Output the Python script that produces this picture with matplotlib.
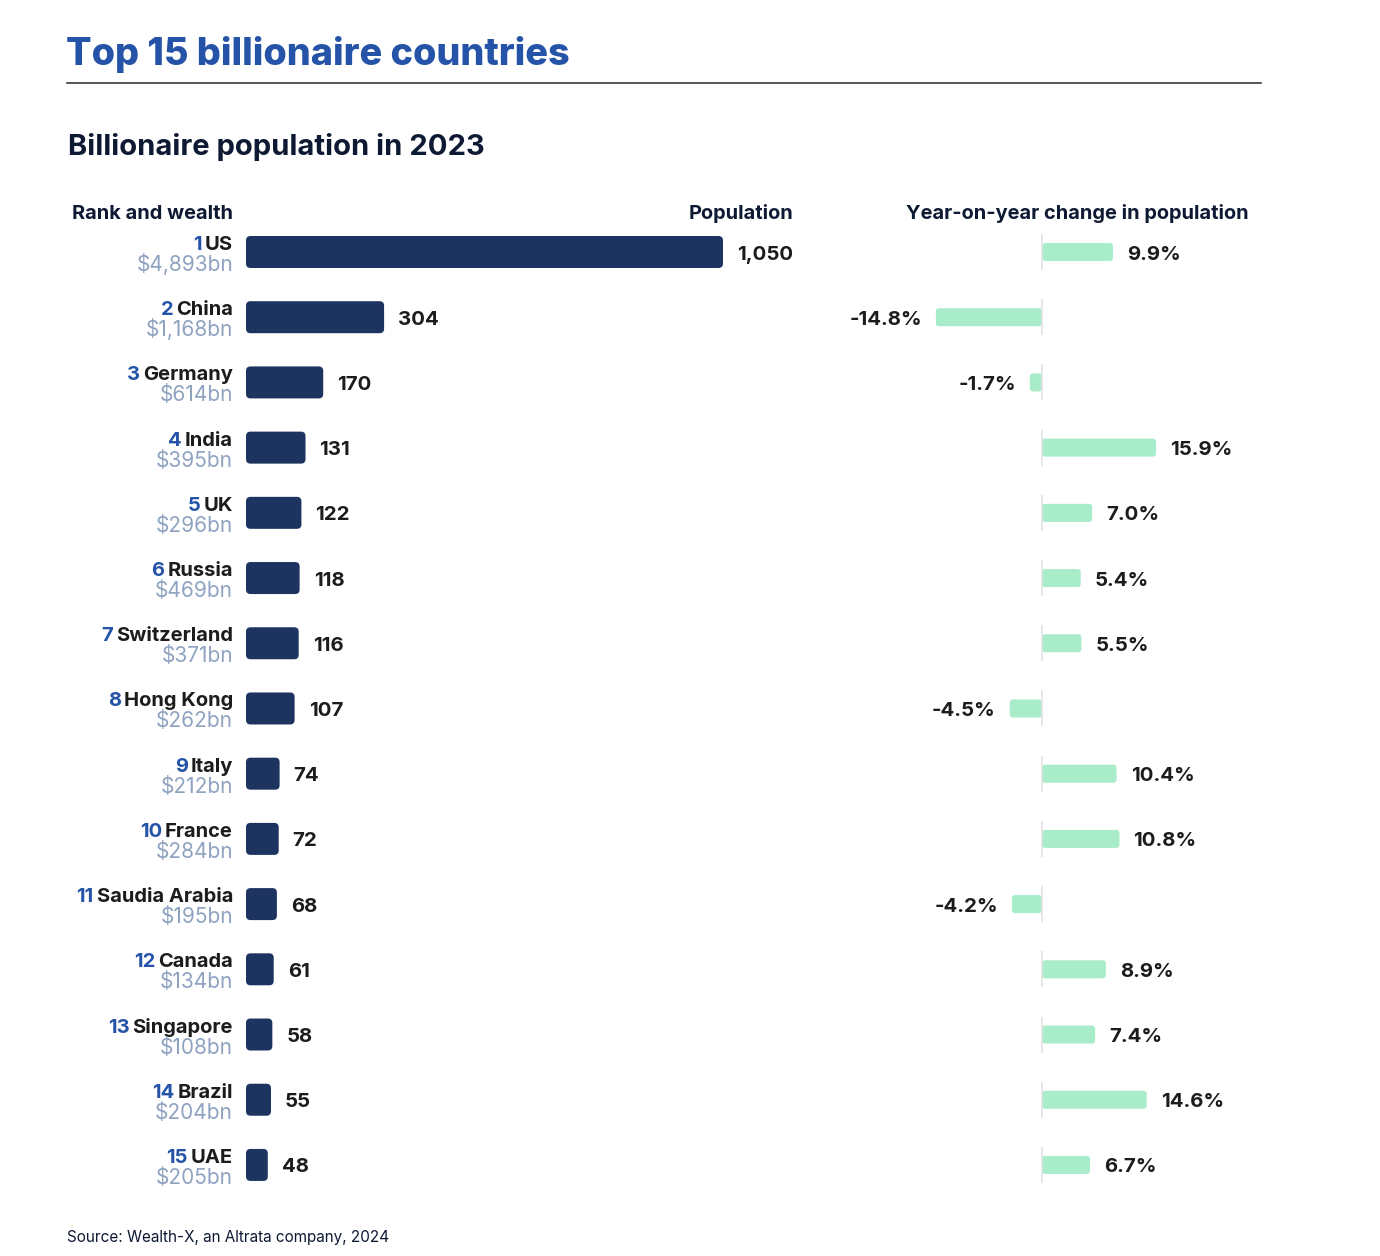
import matplotlib
matplotlib.use("Agg")
import matplotlib.pyplot as plt
from matplotlib.patches import FancyBboxPatch
from matplotlib.lines import Line2D

# -------------------------
#  DATA
# -------------------------
countries = ["US", "China", "Germany", "India", "UK", "Russia", "Switzerland",
             "Hong Kong", "Italy", "France", "Saudia Arabia", "Canada",
             "Singapore", "Brazil", "UAE"]
ranks = list(range(1, 16))
wealth = ["$4,893bn", "$1,168bn", "$614bn", "$395bn", "$296bn", "$469bn",
          "$371bn", "$262bn", "$212bn", "$284bn", "$195bn", "$134bn",
          "$108bn", "$204bn", "$205bn"]
population = [1050, 304, 170, 131, 122, 118, 116, 107, 74, 72, 68, 61, 58, 55, 48]
yoy_change = [9.9, -14.8, -1.7, 15.9, 7.0, 5.4, 5.5, -4.5, 10.4, 10.8, -4.2,
              8.9, 7.4, 14.6, 6.7]

# -------------------------
#  STYLE
# -------------------------
W, H = 1380, 1256
NAVY = "#1d3461"
MINT = "#a8ecca"
BLUE = "#2453a8"
GREY_BLUE = "#8fa3c1"
DARK = "#0e1a33"
TEXT = "#1c1c1c"
FONT = ["Inter", "DejaVu Sans"]

plt.rcParams["font.family"] = FONT

fig = plt.figure(figsize=(W / 100, H / 100), dpi=100)
fig.patch.set_facecolor("white")


def fx(px):
    return px / W


def fy(py):
    return 1 - py / H


# row geometry in pixels
row_top = 252
row_step = 65.21
n = len(countries)
ax_top = row_top - row_step / 2
ax_h = row_step * n

# left axes: population
pop_zero = 246
pop_scale = 477 / 1050  # px per billionaire
pop_xmax = 1300
ax_l = fig.add_axes([fx(pop_zero), fy(ax_top + ax_h), fx(pop_xmax * pop_scale), ax_h / H])
ax_l.set_xlim(0, pop_xmax)
ax_l.set_ylim(n - 0.5, -0.5)

# right axes: year-on-year change
yoy_zero = 1042
yoy_scale = 7.17  # px per percent
r_left, r_right = 880, 1320
ax_r = fig.add_axes([fx(r_left), fy(ax_top + ax_h), fx(r_right - r_left), ax_h / H])
ax_r.set_xlim(-(yoy_zero - r_left) / yoy_scale, (r_right - yoy_zero) / yoy_scale)
ax_r.set_ylim(n - 0.5, -0.5)

for ax in (ax_l, ax_r):
    ax.axis("off")


def rounded_bar(ax, x0, width, yc, h_px, r_px, px_x, color):
    # px_x: pixels per x unit, rows are row_step pixels apart
    h = h_px / row_step
    aspect = px_x / row_step
    patch = FancyBboxPatch((x0, yc - h / 2), width, h,
                           boxstyle=f"round,pad=0,rounding_size={r_px / px_x}",
                           mutation_aspect=aspect, fc=color, ec="none")
    ax.add_patch(patch)


renderer = fig.canvas.get_renderer()
NAME_FS = 14.5
WEALTH_FS = 15
VAL_FS = 14.7

for i in range(n):
    # population bar
    rounded_bar(ax_l, 0, population[i], i, 32, 4.5, pop_scale, NAVY)
    ax_l.annotate(f"{population[i]:,}", xy=(population[i], i), xytext=(14, -7.5),
                  textcoords="offset pixels", ha="left", va="baseline",
                  fontsize=VAL_FS, fontweight="bold", color=TEXT)

    # country name, rank and wealth
    name = ax_l.annotate(countries[i], xy=(0, i), xytext=(-13, 2),
                         textcoords="offset pixels", ha="right", va="baseline",
                         fontsize=NAME_FS, fontweight="bold", color=TEXT,
                         annotation_clip=False)
    w_name = name.get_window_extent(renderer).width
    ax_l.annotate(str(ranks[i]), xy=(0, i), xytext=(-13 - w_name - 3, 2),
                  textcoords="offset pixels", ha="right", va="baseline",
                  fontsize=NAME_FS, fontweight="bold", color=BLUE,
                  annotation_clip=False)
    ax_l.annotate(wealth[i], xy=(0, i), xytext=(-13, -19),
                  textcoords="offset pixels", ha="right", va="baseline",
                  fontsize=WEALTH_FS, color=GREY_BLUE, annotation_clip=False)

    # yoy bar
    v = yoy_change[i]
    ax_r.plot([0, 0], [i - 18 / row_step, i + 18 / row_step], color="#e3e3e3", lw=1.2,
              solid_capstyle="butt")
    rounded_bar(ax_r, min(0, v), abs(v), i, 18, 3, yoy_scale, MINT)
    if v >= 0:
        ax_r.annotate(f"{v:.1f}%", xy=(v, i), xytext=(14, -7.5),
                      textcoords="offset pixels", ha="left", va="baseline",
                      fontsize=VAL_FS, fontweight="bold", color=TEXT)
    else:
        ax_r.annotate(f"{v:.1f}%", xy=(v, i), xytext=(-14, -7.5),
                      textcoords="offset pixels", ha="right", va="baseline",
                      fontsize=VAL_FS, fontweight="bold", color=TEXT)

# -------------------------
#  TITLES AND HEADERS
# -------------------------
fig.text(fx(66), fy(65), "Top 15 billionaire countries", fontsize=27.2,
         fontweight="heavy", color=BLUE, ha="left", va="baseline")
fig.add_artist(Line2D([fx(67), fx(1261)], [fy(83), fy(83)], color="#3a3a3a", lw=1.2))
fig.text(fx(68), fy(155), "Billionaire population in 2023", fontsize=21,
         fontweight="bold", color=DARK, ha="left", va="baseline")

fig.text(fx(72), fy(219), "Rank and wealth", fontsize=14.4, fontweight="bold",
         color=DARK, ha="left", va="baseline")
fig.text(fx(793), fy(219), "Population", fontsize=14.4, fontweight="bold",
         color=DARK, ha="right", va="baseline")
fig.text(fx(1249), fy(219), "Year-on-year change in population", fontsize=14.4,
         fontweight="bold", color=DARK, ha="right", va="baseline")

fig.text(fx(67), fy(1242), "Source: Wealth-X, an Altrata company, 2024", fontsize=11,
         color=DARK, ha="left", va="baseline")

fig.savefig("out.png", dpi=100, facecolor="white")
